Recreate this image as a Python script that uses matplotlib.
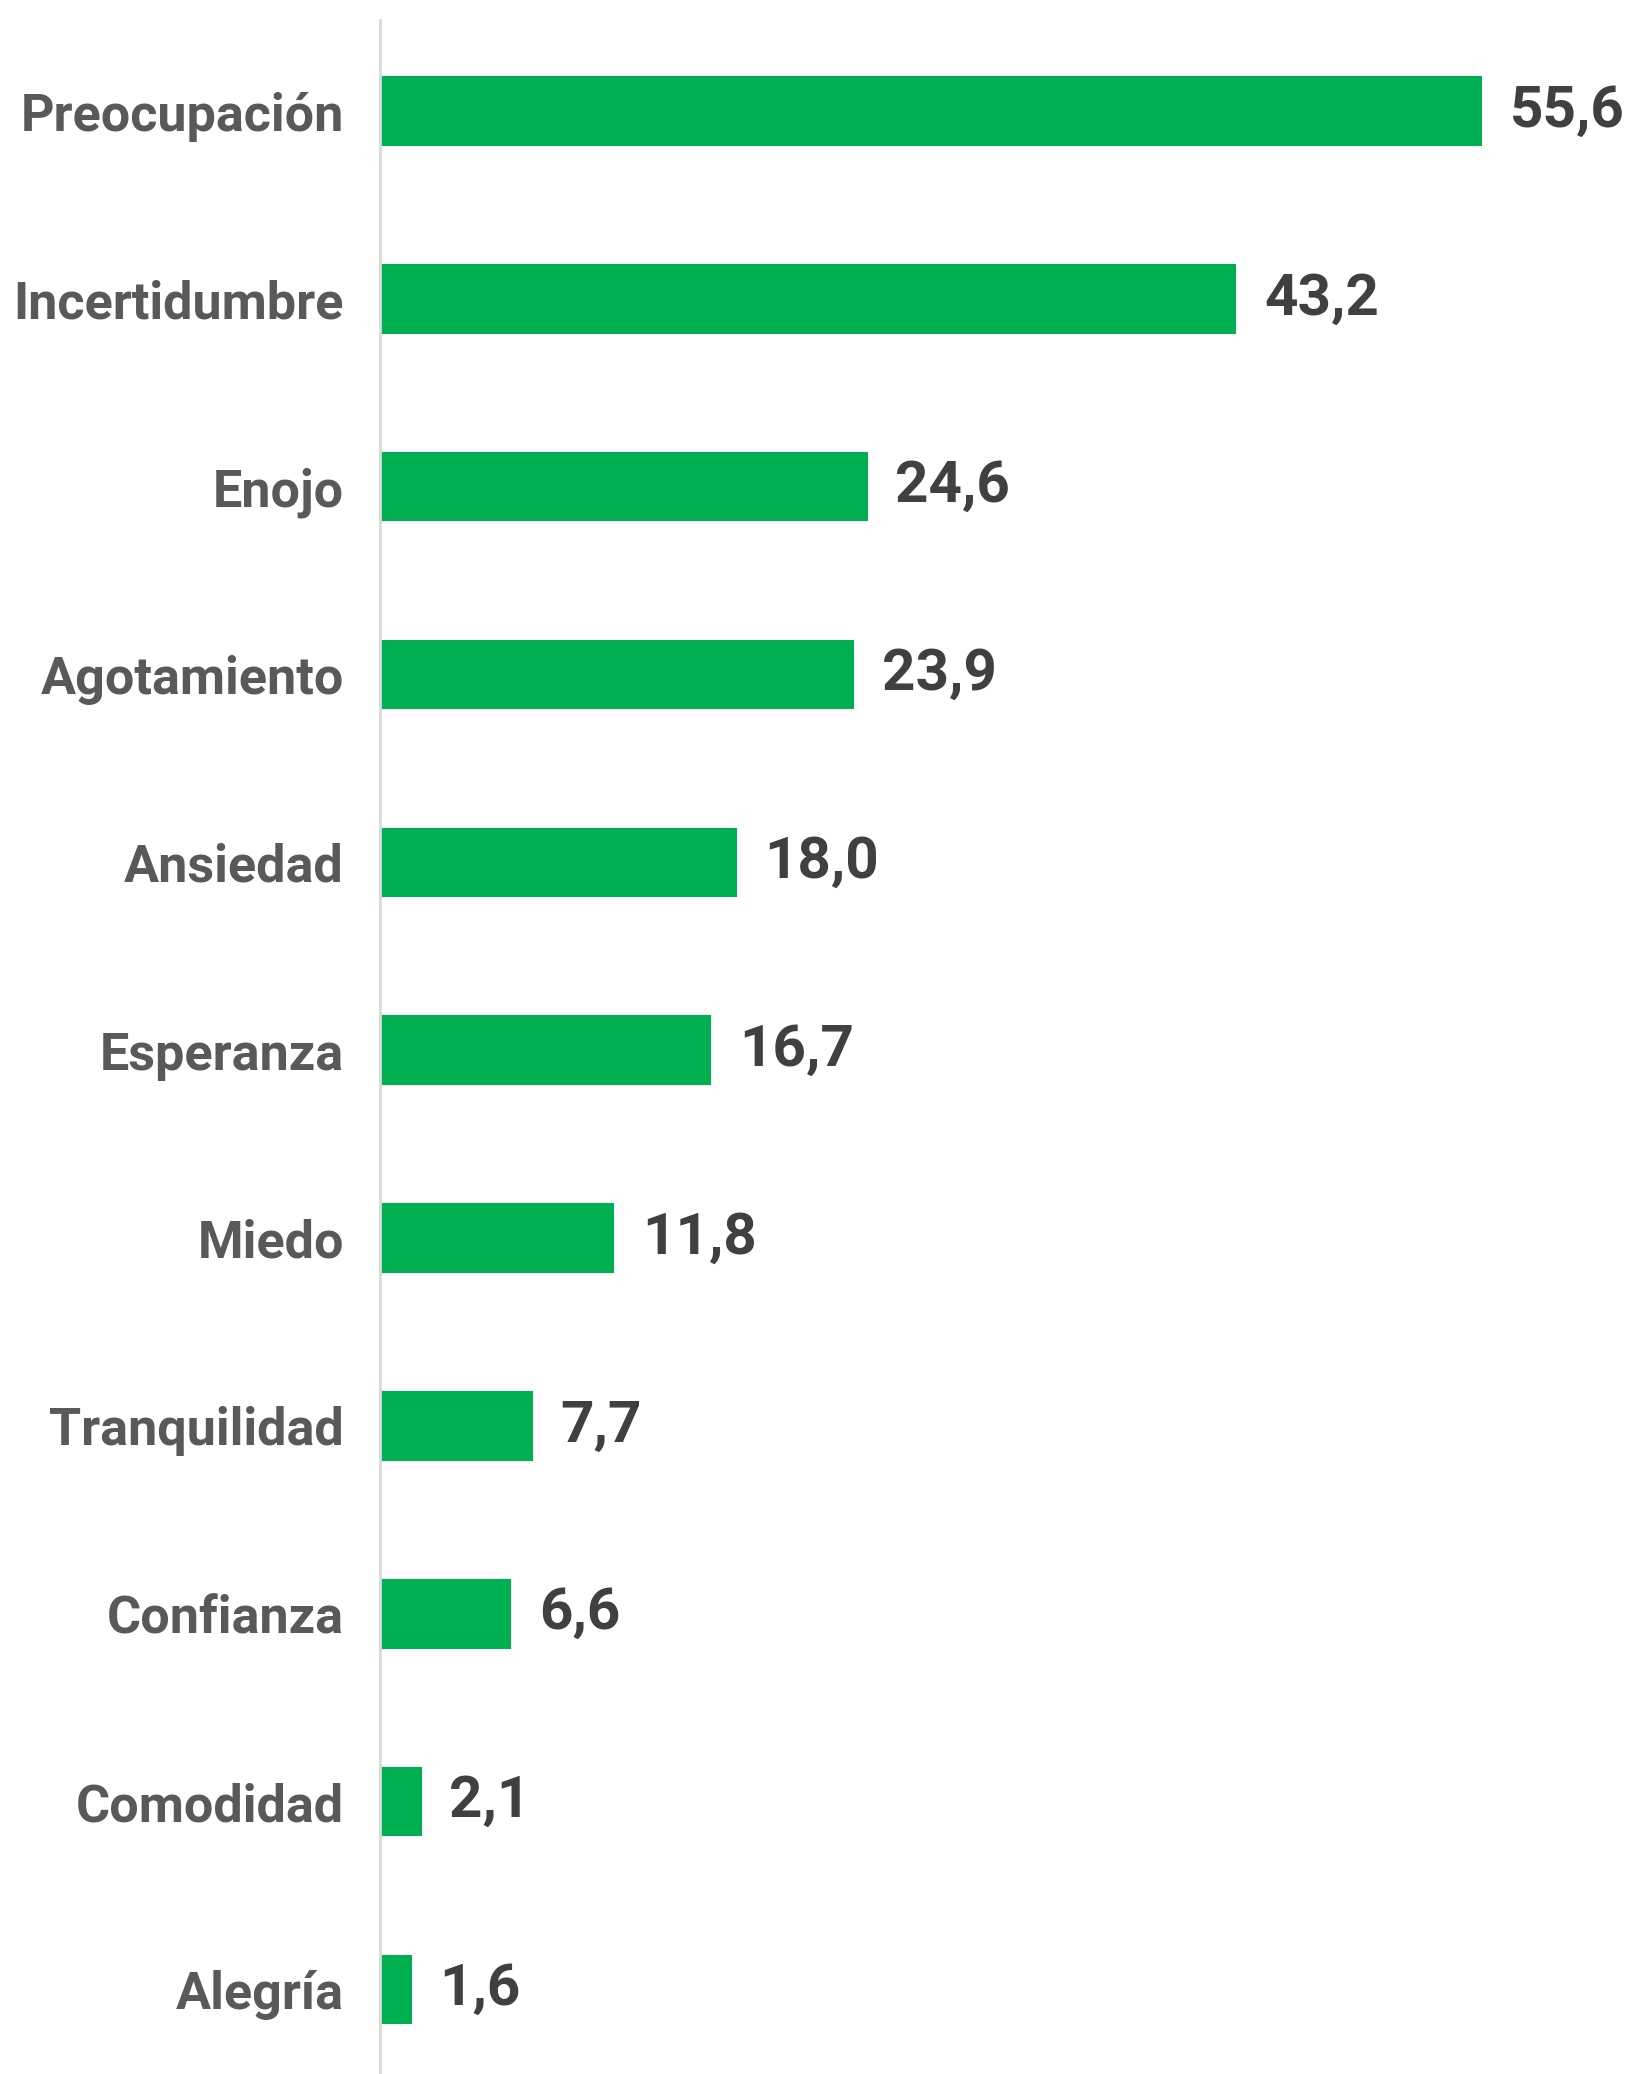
import matplotlib
matplotlib.use("Agg")
import matplotlib.pyplot as plt

# datos
emociones = ["Preocupación", "Incertidumbre", "Enojo", "Agotamiento", "Ansiedad",
             "Esperanza", "Miedo", "Tranquilidad", "Confianza", "Comodidad", "Alegría"]
valores = [55.6, 43.2, 24.6, 23.9, 18.0, 16.7, 11.8, 7.7, 6.6, 2.1, 1.6]
etiquetas = ["55,6", "43,2", "24,6", "23,9", "18,0", "16,7", "11,8", "7,7", "6,6", "2,1", "1,6"]

plt.rcParams["font.family"] = ["Roboto", "DejaVu Sans"]

fig = plt.figure(figsize=(16.31, 20.74), dpi=100)
ax = fig.add_axes([0.233, 0.0, 0.767, 0.9904])

pos = list(range(len(emociones)))
ax.barh(pos, valores, height=0.37, color="#00B050")

# etiquetas de valor a la derecha de cada barra
for p, v, t in zip(pos, valores, etiquetas):
    ax.text(v + 1.4, p, t, va="center", ha="left", fontsize=42,
            fontweight="bold", color="#404040")

ax.set_yticks(pos)
ax.set_yticklabels(emociones, fontsize=37.5, fontweight="bold", color="#595959")
ax.tick_params(axis="y", length=0, pad=26)
ax.set_xticks([])
ax.set_xlim(0, 63.1)
ax.set_ylim(10.45, -0.485)

for s in ["top", "right", "bottom"]:
    ax.spines[s].set_visible(False)
ax.spines["left"].set_color("#d9d9d9")
ax.spines["left"].set_linewidth(2)

fig.savefig("out.png", dpi=100)
